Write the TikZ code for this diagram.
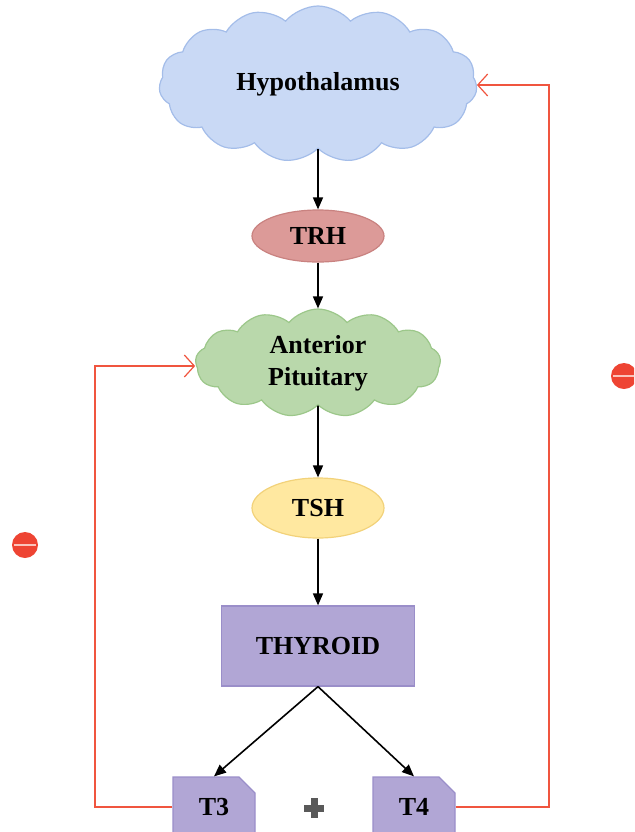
\documentclass[tikz,border=0pt]{standalone}
\usepackage{fontspec}
\setmainfont{Liberation Serif}
\usetikzlibrary{shapes.symbols,shapes.geometric,shapes.misc,arrows.meta}

\definecolor{hypofill}{HTML}{C9D9F5}
\definecolor{hypoline}{HTML}{A4BDE9}
\definecolor{trhfill}{HTML}{DC9A98}
\definecolor{trhline}{HTML}{C98280}
\definecolor{pitfill}{HTML}{B9D8AB}
\definecolor{pitline}{HTML}{9CC78A}
\definecolor{tshfill}{HTML}{FFE8A0}
\definecolor{tshline}{HTML}{F2D27A}
\definecolor{thyfill}{HTML}{B1A6D5}
\definecolor{thyline}{HTML}{9A8EC9}
\definecolor{fbred}{HTML}{F0553F}
\definecolor{minusred}{HTML}{EE4433}

\tikzset{
  lbl/.style={font=\fontsize{13}{16}\selectfont\bfseries, align=center},
  cloudbox/.style={lbl, cloud, cloud ignores aspect, cloud puff arc=100,
    inner sep=0pt, line width=0.6pt},
  hormone/.style={lbl, ellipse, inner sep=0pt, line width=0.6pt,
    minimum width=66pt},
  gland/.style={lbl, rectangle, fill=thyfill, draw=thyline, line width=0.6pt,
    minimum width=96.5pt, minimum height=40pt},
  tag/.style={lbl, chamfered rectangle, chamfered rectangle corners=north east,
    chamfered rectangle xsep=4pt, chamfered rectangle ysep=4pt,
    fill=thyfill, draw=thyline, line width=0.6pt,
    minimum width=41pt, minimum height=30pt, inner sep=0pt},
  flow/.style={line width=0.8pt, -{Triangle[length=6pt,width=5pt]}},
  fb/.style={fbred, line width=0.6pt, -{Straight Barb[length=5pt,width=11pt]}},
  minus/.style={circle, fill=minusred, minimum size=13pt, inner sep=0pt,
    path picture={\draw[line width=1.4pt, fbred!35!white]
      ([xshift=1pt]path picture bounding box.west) --
      ([xshift=-1pt]path picture bounding box.east);}}
}

\begin{document}
\begin{tikzpicture}[x=0.5pt,y=-0.5pt]
  \clip (0,0) rectangle (634,832);

  %% Main chain
  \node[cloudbox, cloud puffs=15, fill=hypofill, draw=hypoline,
    minimum width=159pt, minimum height=78pt] (hypo) at (318,84) {Hypothalamus};
  \node[hormone, fill=trhfill, draw=trhline, minimum height=26pt] (trh) at (318,236) {TRH};
  \node[cloudbox, cloud puffs=13, fill=pitfill, draw=pitline,
    minimum width=122.5pt, minimum height=54pt] (pit) at (318,363) {Anterior\\Pituitary};
  \node[hormone, fill=tshfill, draw=tshline, minimum height=30pt] (tsh) at (318,508) {TSH};
  \node[gland] (thy) at (318,646) {THYROID};

  %% Products
  \node[tag] (t3) at (214,807) {T3};
  \node[tag] (t4) at (414,807) {T4};
  \fill[black!65] (304,804.5) rectangle (324,811.5);
  \fill[black!65] (310.5,798) rectangle (317.5,818);

  \draw[flow] (hypo.south) -- (trh);
  \draw[flow] (trh) -- (pit.north);
  \draw[flow] (pit.south) -- (tsh);
  \draw[flow] (tsh) -- (thy);
  \draw[flow] (thy.south) -- (t3.north);
  \draw[flow] (thy.south) -- (t4.north);

  %% Negative feedback
  \coordinate (lcorner) at (95,366);
  \coordinate (rcorner) at (549,85);
  \draw[fb] (t3.west) -| (lcorner) -- (pit.west |- lcorner);
  \draw[fb] (t4.east) -| (rcorner) -- (hypo.east |- rcorner);

  \node[minus] (inhibL) at (25,545) {};
  \node[minus] (inhibR) at (624,376) {};
\end{tikzpicture}
\end{document}
